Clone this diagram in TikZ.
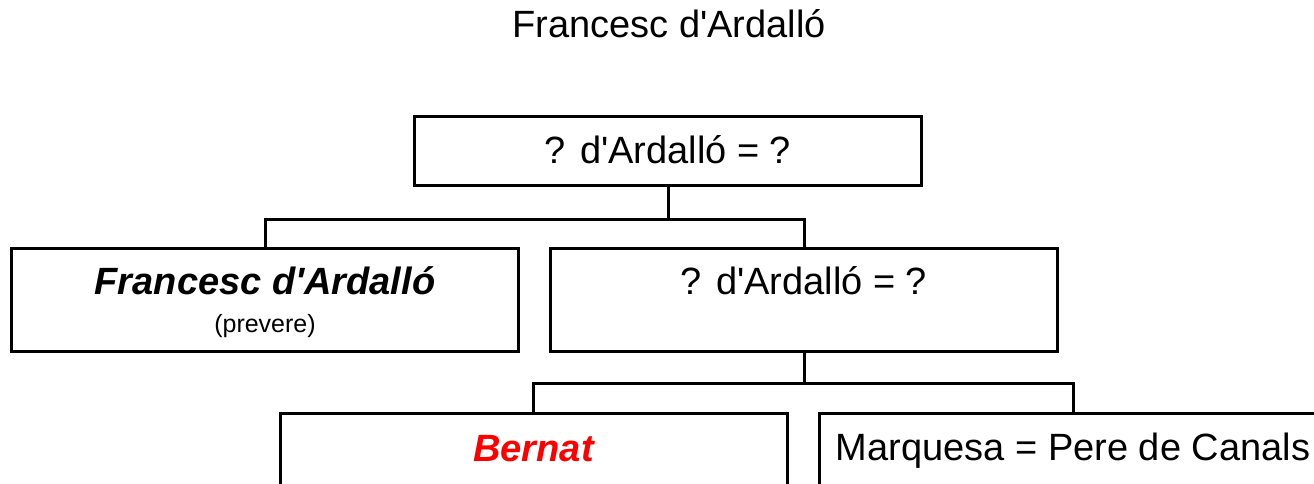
\documentclass[tikz,border=0pt]{standalone}
\usepackage{fontspec}
\setmainfont{Liberation Sans}
\usetikzlibrary{positioning}
\newcommand{\ap}{\textquotesingle}
\tikzset{
  box/.style={draw=black,line width=3pt,fill=white,minimum width=507pt,minimum height=103pt,inner sep=0pt},
  pbox/.style={box,minimum height=69pt},
  lbl/.style={font=\fontsize{38}{42}\selectfont,anchor=base,inner sep=0pt},
  blbl/.style={lbl,font=\fontsize{38}{42}\selectfont\bfseries\itshape},
  sub/.style={font=\fontsize{25}{29}\selectfont,anchor=base,inner sep=0pt},
  link/.style={draw=black,line width=3pt},
}

\begin{document}
\begin{tikzpicture}[x=1pt,y=-1pt]
  \useasboundingbox (0,0) rectangle (1314,483);
  % title
  \node[lbl] (title) at (669,37) {Francesc d\ap Ardalló};
  % boxes
  \node[pbox] (par) at (668,151) {};
  \node[box] (fra) at (265,299.5) {};
  \node[box] (sib) at (804,299.5) {};
  \node[box] (ber) at (533.5,464.5) {};
  \node[box] (mar) at (1073,464.5) {};
  % texts
  \node[lbl] (par-t) at ([yshift=-48pt]par.north) {? d\ap Ardalló = ?};
  \node[blbl] (fra-t) at ([yshift=-48pt]fra.north) {Francesc d\ap Ardalló};
  \node[sub] (fra-s) at ([yshift=-86pt]fra.north) {(prevere)};
  \node[lbl] (sib-t) at ([yshift=-48pt]sib.north) {? d\ap Ardalló = ?};
  \node[blbl,text=red] (ber-t) at ([yshift=-50pt]ber.north) {Bernat};
  \node[lbl] (mar-t) at ([yshift=-49pt]mar.north) {Marquesa = Pere de Canals};
  % connectors
  \coordinate (j1) at ([yshift=-32pt]par.south);
  \coordinate (j2) at ([yshift=-30.5pt]sib.south);
  \draw[link] (par.south) -- (j1) -| (fra.north);
  \draw[link] (j1) -| (sib.north);
  \draw[link] (sib.south) -- (j2) -| (ber.north);
  \draw[link] (j2) -| (mar.north);
\end{tikzpicture}
\end{document}
